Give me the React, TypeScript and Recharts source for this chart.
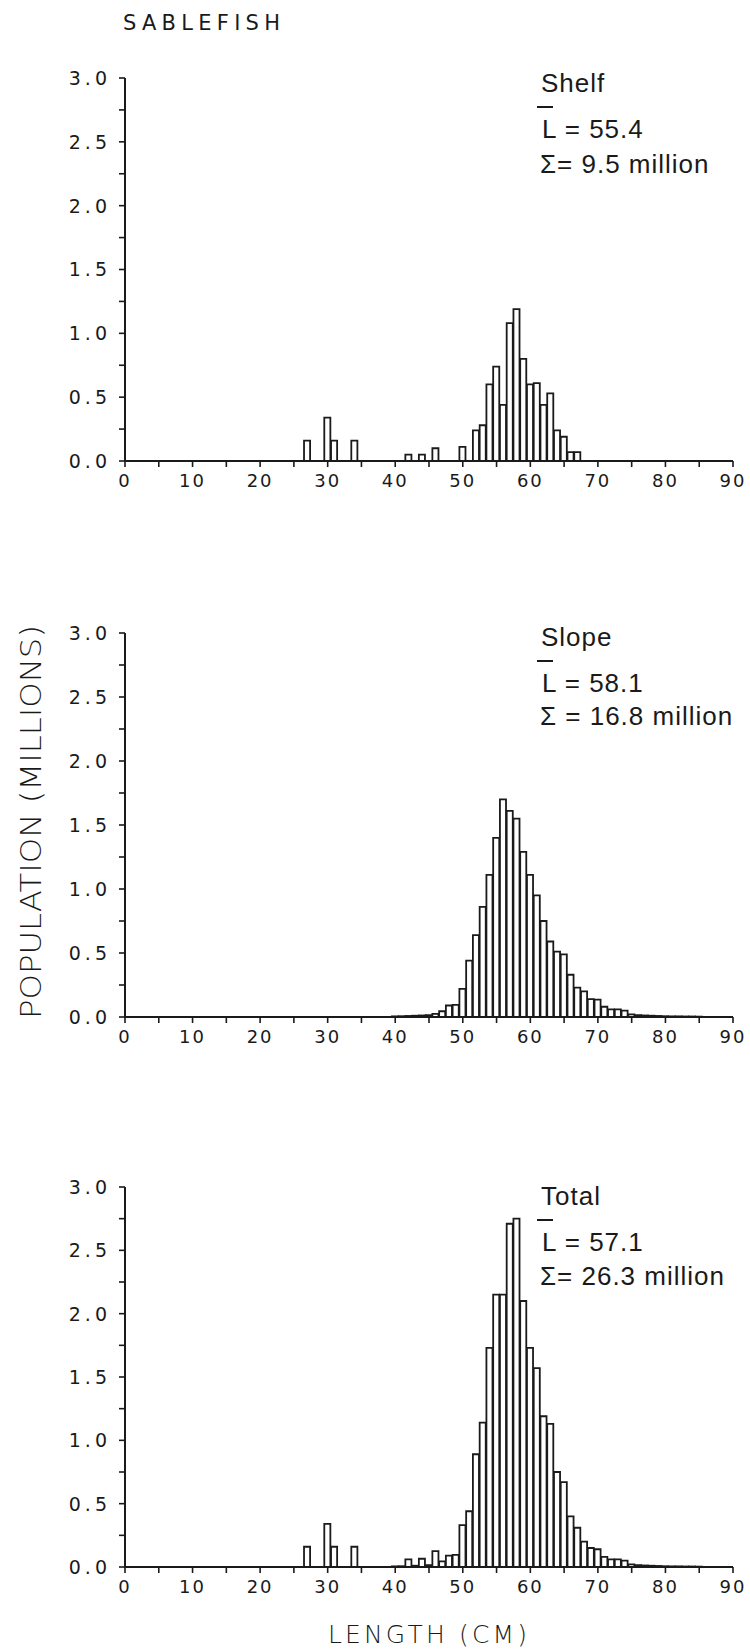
import React from "react";
import { BarChart, Bar, XAxis, YAxis } from "recharts";

// length (cm) -> population (millions)
const shelf: [number, number][] = [
  [27, 0.16], [30, 0.34], [31, 0.16], [34, 0.16], [42, 0.05], [44, 0.05], [46, 0.1],
  [50, 0.11], [52, 0.24], [53, 0.28], [54, 0.6], [55, 0.74], [56, 0.44], [57, 1.08],
  [58, 1.19], [59, 0.8], [60, 0.6], [61, 0.61], [62, 0.44], [63, 0.53], [64, 0.24],
  [65, 0.19], [66, 0.07], [67, 0.07],
];

const slope: [number, number][] = [
  [40, 0.005], [41, 0.006], [42, 0.008], [43, 0.01], [44, 0.012], [45, 0.015], [46, 0.025],
  [47, 0.045], [48, 0.09], [49, 0.095], [50, 0.22], [51, 0.44], [52, 0.64], [53, 0.86],
  [54, 1.11], [55, 1.4], [56, 1.7], [57, 1.61], [58, 1.55], [59, 1.29], [60, 1.11],
  [61, 0.95], [62, 0.75], [63, 0.59], [64, 0.51], [65, 0.49], [66, 0.33], [67, 0.23],
  [68, 0.2], [69, 0.14], [70, 0.135], [71, 0.08], [72, 0.06], [73, 0.06], [74, 0.05],
  [75, 0.02], [76, 0.015], [77, 0.012], [78, 0.01], [79, 0.008], [80, 0.006], [81, 0.005],
  [82, 0.005], [83, 0.004], [84, 0.004], [85, 0.003],
];

const total: [number, number][] = [
  [27, 0.16], [30, 0.34], [31, 0.16], [34, 0.16], [40, 0.005], [41, 0.006], [42, 0.06],
  [43, 0.01], [44, 0.065], [45, 0.015], [46, 0.125], [47, 0.045], [48, 0.09], [49, 0.095],
  [50, 0.33], [51, 0.44], [52, 0.89], [53, 1.14], [54, 1.73], [55, 2.15], [56, 2.15],
  [57, 2.71], [58, 2.75], [59, 2.1], [60, 1.73], [61, 1.57], [62, 1.19], [63, 1.13],
  [64, 0.75], [65, 0.67], [66, 0.4], [67, 0.31], [68, 0.2], [69, 0.15], [70, 0.14],
  [71, 0.08], [72, 0.06], [73, 0.06], [74, 0.05], [75, 0.02], [76, 0.015], [77, 0.012],
  [78, 0.01], [79, 0.008], [80, 0.006], [81, 0.005], [82, 0.005], [83, 0.004], [84, 0.004],
  [85, 0.003],
];

const areaNames = ["Shelf", "Slope", "Total"];
const meanLabels = ["L = 55.4", "L = 58.1", "L = 57.1"];
const sumLabels = ["\u03A3= 9.5 million", "\u03A3 = 16.8 million", "\u03A3= 26.3 million"];

const xTicks = [0, 5, 10, 15, 20, 25, 30, 35, 40, 45, 50, 55, 60, 65, 70, 75, 80, 85, 90];
const yTicks = [0, 0.25, 0.5, 0.75, 1, 1.25, 1.5, 1.75, 2, 2.25, 2.5, 2.75, 3];

// layout
const W = 750;
const PLOT_L = 125;
const PLOT_R = 733;
const PLOT_W = PLOT_R - PLOT_L;
const Y_AXIS_W = 60;
const M_TOP = 20;
const X_AXIS_H = 40;
const INK = "#1a1a1a";
const PLOT_FONT = "DejaVu Sans";
const TEXT_FONT = "Liberation Sans";

const panels = [
  { data: shelf, top: 78, h: 383, nameY: 92, barY: 107, meanY: 138, sumY: 173 },
  { data: slope, top: 633, h: 384, nameY: 646, barY: 661, meanY: 692, sumY: 725 },
  { data: total, top: 1187, h: 380, nameY: 1205, barY: 1220, meanY: 1251, sumY: 1285 },
];

function XTick(props: any) {
  const { x, y, payload } = props;
  const v = payload.value;
  if (v % 10 !== 0) return null;
  return (
    <text x={x} y={y} dy="0.71em" textAnchor="middle" fontFamily={PLOT_FONT} fontSize={18} letterSpacing={2} fill={INK}>
      {v}
    </text>
  );
}

function YTick(props: any) {
  const { x, y, payload } = props;
  const v = payload.value;
  if (Math.abs(v * 2 - Math.round(v * 2)) > 1e-6) return null;
  return (
    <text x={x} y={y} dy="0.36em" textAnchor="end" fontFamily={PLOT_FONT} fontSize={19} letterSpacing={4} fill={INK}>
      {v.toFixed(1)}
    </text>
  );
}

function Panel({ data, top, h }: { data: [number, number][]; top: number; h: number }) {
  const rows = data.map(([len, pop]) => ({ len, pop }));
  return (
    <div style={{ position: "absolute", left: 0, top: top - M_TOP }}>
      <BarChart
        width={W}
        height={M_TOP + h + X_AXIS_H}
        data={rows}
        margin={{ top: M_TOP, right: W - PLOT_R, bottom: 0, left: PLOT_L - Y_AXIS_W }}
        barCategoryGap={0}
        barGap={0}
      >
        <XAxis
          dataKey="len"
          type="number"
          domain={[0, 90]}
          ticks={xTicks}
          interval={0}
          height={X_AXIS_H}
          tickSize={6}
          tickMargin={7}
          axisLine={{ stroke: INK, strokeWidth: 2 }}
          tickLine={{ stroke: INK, strokeWidth: 1.6 }}
          tick={XTick}
        />
        <YAxis
          type="number"
          domain={[0, 3]}
          ticks={yTicks}
          interval={0}
          width={Y_AXIS_W}
          tickSize={6}
          tickMargin={8}
          axisLine={{ stroke: INK, strokeWidth: 2 }}
          tickLine={{ stroke: INK, strokeWidth: 1.6 }}
          tick={YTick}
        />
        <Bar dataKey="pop" fill="#ffffff" stroke={INK} strokeWidth={1.8} barSize={PLOT_W / 90} isAnimationActive={false} />
      </BarChart>
    </div>
  );
}

export default function App() {
  return (
    <div style={{ position: "absolute", left: 0, top: 0, width: W, height: 1649, background: "#fff" }}>
      {panels.map((p, i) => (
        <Panel key={i} data={p.data} top={p.top} h={p.h} />
      ))}
      <svg width={W} height={1649} style={{ position: "absolute", left: 0, top: 0, pointerEvents: "none" }}>
        <text x={123} y={30} fontFamily="DejaVu Sans" fontSize={21} textLength={157} lengthAdjust="spacing" fill={INK}>
          SABLEFISH
        </text>
        <text
          x={41}
          y={822}
          transform="rotate(-90 41 822)"
          textAnchor="middle"
          fontFamily={PLOT_FONT}
          fontWeight={200}
          fontSize={28}
          textLength={394}
          lengthAdjust="spacingAndGlyphs"
          fill={INK}
        >
          POPULATION (MILLIONS)
        </text>
        <text x={328} y={1643} fontFamily={PLOT_FONT} fontWeight={200} fontSize={25} textLength={199} lengthAdjust="spacing" fill={INK}>
          LENGTH (CM)
        </text>
        {panels.map((p, i) => (
          <g key={i} fontFamily={TEXT_FONT} fontSize={26} fill={INK} letterSpacing={1}>
            <text x={541} y={p.nameY}>{areaNames[i]}</text>
            <line x1={537} x2={553} y1={p.barY} y2={p.barY} stroke={INK} strokeWidth={2} />
            <text x={542} y={p.meanY}>{meanLabels[i]}</text>
            <text x={540} y={p.sumY}>{sumLabels[i]}</text>
          </g>
        ))}
      </svg>
    </div>
  );
}
